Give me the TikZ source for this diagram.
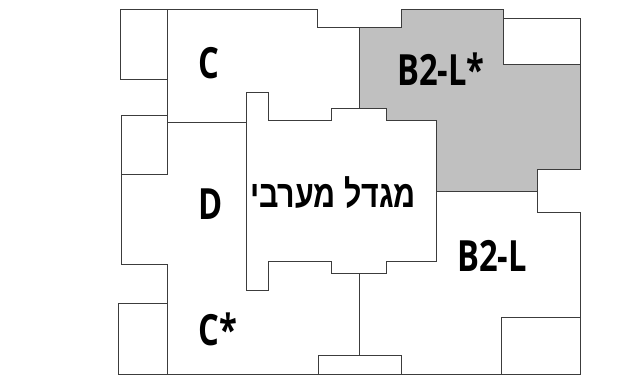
\documentclass[tikz,border=0pt]{standalone}
\usepackage{fontspec}
\setmainfont{Open Sans}
\newfontfamily\hebfont[Script=Hebrew]{Liberation Sans}
\TeXXeTstate=1
\definecolor{wallc}{HTML}{3C3C3C}
\definecolor{fillc}{HTML}{C0C0C0}
\tikzset{
  wall/.style={draw=wallc,line width=0.9pt,line join=miter},
  lab/.style={font=\fontsize{43}{43}\selectfont\bfseries,xscale=0.76,inner sep=0pt,text=black},
  heb/.style={font=\hebfont\fontsize{38}{38}\selectfont\bfseries,xscale=0.80,inner sep=0pt,text=black}
}
\begin{document}
\begin{tikzpicture}[x=1pt,y=-1pt]
\useasboundingbox (0,0) rectangle (643,375);
\fill[white] (0,0) rectangle (643,375);
% grey unit
\path[wall,fill=fillc] (359.7,27) -- (401.7,27) -- (401.7,9.3) -- (503.3,9.3) -- (503.3,64.5) -- (580,64.5) -- (580,169.7) -- (537.7,169.7) -- (537.7,191) -- (436,191) -- (436,120) -- (386.7,120) -- (386.7,108.3) -- (359.7,108.3) -- cycle;
% top-right balcony
\path[wall] (503.3,18.7) -- (580,18.7) -- (580,64.5);
% tower
\path[wall] (359.7,108.3) -- (331.7,108.3) -- (331.7,120.5) -- (268.3,120.5) -- (268.3,92) -- (246.5,92) -- (246.5,290.3) -- (268.3,290.3) -- (268.3,261.3) -- (331.7,261.3) -- (331.7,273) -- (386.7,273) -- (386.7,261.3) -- (436,261.3) -- (436,191);
% outer top
\path[wall] (167,79) -- (120.7,79) -- (120.7,9.3) -- (317.7,9.3) -- (317.7,27) -- (359.7,27);
\path[wall] (167,9.3) -- (167,174.3) -- (121.5,174.3);
\path[wall] (167,115) -- (121.5,115) -- (121.5,264) -- (167,264) -- (167,374.3);
\path[wall] (167,122) -- (246.5,122);
\path[wall] (167,303.3) -- (118.7,303.3) -- (118.7,374.3) -- (580,374.3) -- (580,212) -- (537.7,212) -- (537.7,191);
\path[wall] (318.7,374.3) -- (318.7,355) -- (401.7,355) -- (401.7,374.3);
\path[wall] (359.7,273) -- (359.7,355);
\path[wall] (501.7,374.3) -- (501.7,317.7) -- (580,317.7);
% labels
\node[lab] (c) at (208.5,63) {C};
\node[lab] (d) at (210.5,204) {D};
\node[lab] (cs) at (217.5,329) {C*};
\node[lab] (bs) at (441,69) {B2-L*};
\node[lab] (b) at (492,255.5) {B2-L};
\node[heb] (t) at (333,193) {\beginR מגדל מערבי\endR};
\end{tikzpicture}
\end{document}
